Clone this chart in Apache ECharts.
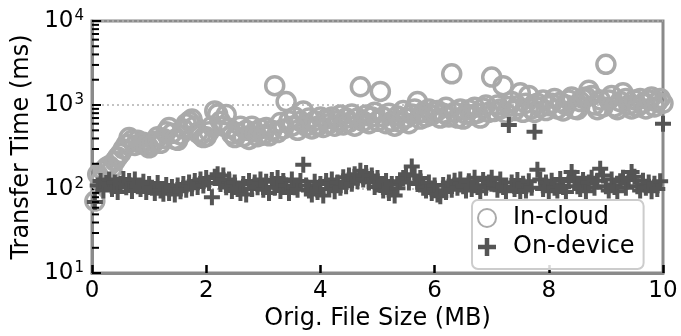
<!DOCTYPE html>
<html>
<head>
<meta charset="utf-8">
<script src="https://cdn.jsdelivr.net/npm/echarts@6/dist/echarts.min.js"></script>
<style>
html,body{margin:0;padding:0;background:#fff;}
#c{width:681px;height:336px;}
</style>
</head>
<body>
<div id="c"></div>
<script>
// ---- data ----
const fileSizeMB = [
0.05,0.10,0.15,0.20,0.25,0.30,0.35,0.40,0.45,0.50,0.55,0.60,0.65,0.70,0.75,0.80,0.85,0.90,0.95,1.00,
1.05,1.10,1.15,1.20,1.25,1.30,1.35,1.40,1.45,1.50,1.55,1.60,1.65,1.70,1.75,1.80,1.85,1.90,1.95,2.00,
2.05,2.10,2.15,2.20,2.25,2.30,2.35,2.40,2.45,2.50,2.55,2.60,2.65,2.70,2.75,2.80,2.85,2.90,2.95,3.00,
3.05,3.10,3.15,3.20,3.25,3.30,3.35,3.40,3.45,3.50,3.55,3.60,3.65,3.70,3.75,3.80,3.85,3.90,3.95,4.00,
4.05,4.10,4.15,4.20,4.25,4.30,4.35,4.40,4.45,4.50,4.55,4.60,4.65,4.70,4.75,4.80,4.85,4.90,4.95,5.00,
5.05,5.10,5.15,5.20,5.25,5.30,5.35,5.40,5.45,5.50,5.55,5.60,5.65,5.70,5.75,5.80,5.85,5.90,5.95,6.00,
6.05,6.10,6.15,6.20,6.25,6.30,6.35,6.40,6.45,6.50,6.55,6.60,6.65,6.70,6.75,6.80,6.85,6.90,6.95,7.00,
7.05,7.10,7.15,7.20,7.25,7.30,7.35,7.40,7.45,7.50,7.55,7.60,7.65,7.70,7.75,7.80,7.85,7.90,7.95,8.00,
8.05,8.10,8.15,8.20,8.25,8.30,8.35,8.40,8.45,8.50,8.55,8.60,8.65,8.70,8.75,8.80,8.85,8.90,8.95,9.00,
9.05,9.10,9.15,9.20,9.25,9.30,9.35,9.40,9.45,9.50,9.55,9.60,9.65,9.70,9.75,9.80,9.85,9.90,9.95,10.00
];
const inCloudMs = [
72,150,125,165,180,190,175,215,240,265,300,340,410,380,330,380,350,360,330,310,
340,370,420,350,400,480,540,460,390,380,440,520,600,640,680,560,470,440,410,420,
480,560,850,780,640,560,770,530,450,410,470,560,420,500,390,560,480,420,520,440,
540,430,500,1700,470,620,520,1100,650,560,720,500,640,850,560,700,520,650,560,720,
540,680,600,720,560,650,760,580,700,620,780,560,700,1650,640,760,600,720,820,640,
1450,720,600,800,640,560,740,620,860,700,600,780,900,1100,680,820,720,900,760,840,
860,700,800,940,720,2350,820,700,900,680,780,880,760,940,800,700,920,1000,820,2150,
840,1000,900,1700,800,960,1100,860,980,1400,820,1050,1300,900,820,1050,940,1150,860,980,
1050,1200,900,1080,850,1000,1150,1250,900,880,1100,1200,1250,1500,1300,1000,880,1150,950,3050,
1150,1300,950,880,1100,1400,1200,1000,900,1150,950,1200,1050,900,1150,1250,950,1080,1200,1050
];
const onDeviceMs = [
70,110,125,96,118,130,100,120,92,115,132,105,125,95,130,108,100,122,92,115,
104,90,118,96,88,112,90,106,86,110,94,115,98,120,102,125,106,130,110,135,
118,80,140,150,115,145,105,130,95,120,100,90,115,86,125,100,120,105,130,98,
122,90,128,104,135,95,125,110,90,130,105,98,125,195,110,96,86,122,92,115,
84,125,100,130,94,120,104,138,108,145,116,150,124,165,130,155,120,145,106,135,
112,96,125,90,115,84,102,124,135,150,120,185,145,115,135,104,96,120,90,110,
86,82,112,92,120,98,126,104,130,108,96,124,100,136,106,94,128,104,120,136,
114,98,130,106,94,580,120,100,128,92,116,96,124,104,480,170,130,100,120,94,
126,104,96,132,106,92,124,160,136,108,100,128,94,120,136,104,126,175,145,108,
96,130,106,94,124,136,104,128,160,140,108,96,126,104,120,94,116,100,124,600
];
const seriesNames = ['In-cloud', 'On-device'];
const xTicks = [0, 2, 4, 6, 8, 10];
const yTicks = [10, 100, 1000, 10000];
const yMinorTicks = [20,30,40,50,60,70,80,90,200,300,400,500,600,700,800,900,2000,3000,4000,5000,6000,7000,8000,9000];

const FONT = 'DejaVu Sans';
const plusPath = 'path://M-1,-4H1V-1H4V1H1V4H-1V1H-4V-1H-1Z';

const inCloudData = fileSizeMB.map((x, i) => [x, inCloudMs[i]]);
const onDeviceData = fileSizeMB.map((x, i) => [x, onDeviceMs[i]]);

const chart = echarts.init(document.getElementById('c'), null, {renderer: 'canvas'});
chart.setOption({
  animation: false,
  backgroundColor: '#fff',
  textStyle: {fontFamily: FONT},
  grid: {
    left: 92, right: 18, top: 21, bottom: 57,
    show: true, borderColor: '#8a8a8a', borderWidth: 3, backgroundColor: 'transparent'
  },
  xAxis: {
    type: 'value',
    min: xTicks[0], max: xTicks[xTicks.length - 1], interval: 2,
    name: 'Orig. File Size (MB)',
    nameLocation: 'middle', nameGap: 31,
    nameTextStyle: {fontSize: 24, color: '#000', fontFamily: FONT},
    axisLine: {show: true, lineStyle: {color: '#8a8a8a', width: 3}},
    axisTick: {show: true, inside: true, length: 8, lineStyle: {color: '#000', width: 2.5}},
    axisLabel: {fontSize: 23, color: '#000', margin: 6, fontFamily: FONT},
    splitLine: {show: false}
  },
  yAxis: {
    type: 'log', logBase: 10,
    min: yTicks[0], max: yTicks[yTicks.length - 1],
    name: 'Transfer Time (ms)',
    nameLocation: 'middle', nameGap: 58,
    nameTextStyle: {fontSize: 24, color: '#000', fontFamily: FONT},
    axisLine: {show: true, lineStyle: {color: '#8a8a8a', width: 3}},
    axisTick: {show: true, inside: true, length: 9, lineStyle: {color: '#000', width: 2}},
    axisLabel: {
      margin: 8,
      formatter: v => '{b|10}{s|' + Math.round(Math.log10(v)) + '}',
      rich: {
        b: {fontSize: 23, color: '#000', fontFamily: FONT},
        s: {fontSize: 15, color: '#000', fontFamily: FONT, verticalAlign: 'top', padding: [0, 0, 10, 1]}
      }
    },
    splitLine: {show: true, lineStyle: {color: '#b0b0b0', width: 1.5, type: [2, 3]}}
  },
  legend: {
    orient: 'vertical',
    left: 472, top: 200,
    data: [
      {name: seriesNames[0], icon: 'circle'},
      {name: seriesNames[1], icon: plusPath}
    ],
    itemWidth: 30, itemHeight: 18, itemGap: 5,
    padding: [6, 9, 10, 5],
    backgroundColor: 'rgba(255,255,255,0.85)',
    borderColor: '#cccccc', borderWidth: 2, borderRadius: 6,
    textStyle: {fontSize: 24, color: '#000', fontFamily: FONT, lineHeight: 24, padding: [0, 0, 0, 6]}
  },
  series: [
    {
      name: seriesNames[0], type: 'scatter', data: inCloudData,
      symbol: 'circle', symbolSize: 18, clip: true,
      itemStyle: {color: 'rgba(255,255,255,0)', borderColor: '#aaaaaa', borderWidth: 3.5, opacity: 1},
      z: 2
    },
    {
      name: seriesNames[1], type: 'scatter', data: onDeviceData,
      symbol: plusPath, symbolSize: 16, clip: true,
      itemStyle: {color: '#555555', opacity: 1},
      z: 3
    },
    {
      name: 'minorTicks', type: 'custom', silent: true, clip: false, z: 5,
      data: yMinorTicks.map(v => [xTicks[0], v]),
      renderItem: (params, api) => {
        const p = api.coord([api.value(0), api.value(1)]);
        return {type: 'line', shape: {x1: p[0], y1: p[1], x2: p[0] + 7, y2: p[1]},
                style: {stroke: '#000', lineWidth: 2}};
      }
    }
  ]
});
</script>
</body>
</html>
